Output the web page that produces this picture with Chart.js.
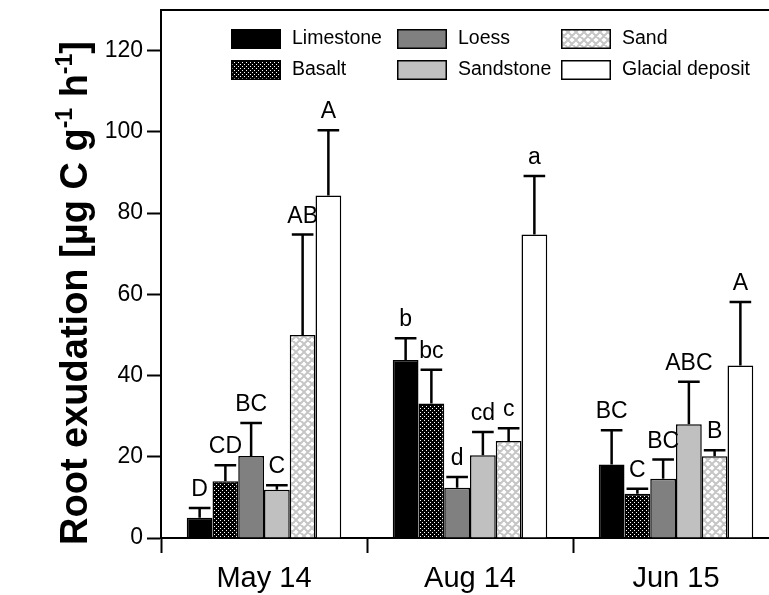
<!DOCTYPE html>
<html>
<head>
<meta charset="utf-8">
<script src="https://cdn.jsdelivr.net/npm/chart.js@4/dist/chart.umd.min.js"></script>
<style>
  html, body { margin: 0; padding: 0; background: #fff; overflow: hidden; }
  #wrap { width: 782px; height: 595px; }
</style>
</head>
<body>
<div id="wrap"><canvas id="c" width="782" height="595"></canvas></div>
<script>
// Sampling dates and substrates
const dates = ['May 14', 'Aug 14', 'Jun 15'];
const substrates = ['Limestone', 'Basalt', 'Loess', 'Sandstone', 'Sand', 'Glacial deposit'];

// Mean root exudation per substrate (µg C g-1 h-1), one value per date
const limestone = [5.0, 43.8, 18.1];
const basalt    = [14.0, 33.1, 10.9];
const loess     = [20.2, 12.4, 14.6];
const sandstone = [11.9, 20.4, 28.0];
const sand      = [50.0, 23.9, 20.1];
const glacial   = [84.3, 74.7, 42.5];

// Upper error (standard error)
const limestoneErr = [2.4, 5.4, 8.4];
const basaltErr    = [3.9, 8.3, 1.2];
const loessErr     = [8.1, 2.6, 4.7];
const sandstoneErr = [1.1, 5.7, 10.5];
const sandErr      = [24.7, 3.1, 1.5];
const glacialErr   = [16.1, 14.4, 15.6];

// Significance letters
const limestoneSig = ['D', 'b', 'BC'];
const basaltSig    = ['CD', 'bc', 'C'];
const loessSig     = ['BC', 'd', 'BC'];
const sandstoneSig = ['C', 'cd', 'ABC'];
const sandSig      = ['AB', 'c', 'B'];
const glacialSig   = ['A', 'a', 'A'];

// Y axis tick values
const yTicks = [0, 20, 40, 60, 80, 100, 120];

const FONT = "'Liberation Sans', Arial, Helvetica, sans-serif";

function dotPattern() {
  const c = document.createElement('canvas');
  c.width = 4; c.height = 4;
  const g = c.getContext('2d');
  g.fillStyle = '#000'; g.fillRect(0, 0, 4, 4);
  g.fillStyle = '#fff';
  g.fillRect(0, 0, 1, 1);
  g.fillRect(2, 2, 1, 1);
  return g.createPattern(c, 'repeat');
}

function hatchPattern() {
  const c = document.createElement('canvas');
  c.width = 8; c.height = 8;
  const g = c.getContext('2d');
  g.fillStyle = '#fff'; g.fillRect(0, 0, 8, 8);
  g.strokeStyle = '#c6c6c6';
  g.lineWidth = 2;
  g.beginPath();
  for (const d of [-8, 0, 8]) {
    g.moveTo(d, 0); g.lineTo(d + 8, 8);
    g.moveTo(d + 8, 0); g.lineTo(d, 8);
  }
  g.stroke();
  return g.createPattern(c, 'repeat');
}

const fills = [ '#000000', dotPattern(), '#808080', '#c0c0c0', hatchPattern(), '#ffffff' ];
const values = [limestone, basalt, loess, sandstone, sand, glacial];
const errors = [limestoneErr, basaltErr, loessErr, sandstoneErr, sandErr, glacialErr];
const letters = [limestoneSig, basaltSig, loessSig, sandstoneSig, sandSig, glacialSig];

const datasets = substrates.map((name, i) => ({
  label: name,
  data: values[i],
  errUp: errors[i],
  sig: letters[i],
  backgroundColor: fills[i],
  borderColor: '#000',
  borderWidth: 1.5,
  borderSkipped: 'start',
  barPercentage: 1.0,
  categoryPercentage: 0.75
}));

// Error bars and significance letters above each bar
const errorBars = {
  id: 'errorBars',
  afterDatasetsDraw(chart) {
    const ctx = chart.ctx;
    const y = chart.scales.y;
    ctx.save();
    ctx.strokeStyle = '#000';
    ctx.fillStyle = '#000';
    ctx.lineWidth = 2.5;
    ctx.font = '23px ' + FONT;
    ctx.textAlign = 'center';
    ctx.textBaseline = 'alphabetic';
    chart.data.datasets.forEach((ds, i) => {
      const meta = chart.getDatasetMeta(i);
      meta.data.forEach((bar, j) => {
        const top = y.getPixelForValue(ds.data[j] + ds.errUp[j]);
        const half = bar.width * 0.42;
        ctx.beginPath();
        ctx.moveTo(bar.x, bar.y);
        ctx.lineTo(bar.x, top);
        ctx.moveTo(bar.x - half, top);
        ctx.lineTo(bar.x + half, top);
        ctx.stroke();
        ctx.fillText(ds.sig[j], bar.x, top - 12);
      });
    });
    ctx.restore();
  }
};

// Top frame line, legend and rotated y title
const decorations = {
  id: 'decorations',
  afterDraw(chart) {
    const ctx = chart.ctx;
    const a = chart.chartArea;
    ctx.save();
    // top frame
    ctx.strokeStyle = '#000';
    ctx.lineWidth = 2;
    ctx.beginPath();
    ctx.moveTo(a.left - 1, a.top);
    ctx.lineTo(a.right, a.top);
    ctx.stroke();

    // legend: three columns, two rows
    const order = [0, 2, 4, 1, 3, 5];
    const colX = [a.left + 70, a.left + 236, a.left + 400];
    const rowY = [a.top + 19, a.top + 50];
    ctx.font = '19.5px ' + FONT;
    ctx.textBaseline = 'middle';
    ctx.textAlign = 'left';
    order.forEach((di, k) => {
      const ds = chart.data.datasets[di];
      const x = colX[k % 3];
      const yy = rowY[Math.floor(k / 3)];
      ctx.fillStyle = ds.backgroundColor;
      ctx.fillRect(x, yy, 50, 20);
      ctx.lineWidth = 1.5;
      ctx.strokeStyle = '#000';
      ctx.strokeRect(x + 0.75, yy + 0.75, 48.5, 18.5);
      ctx.fillStyle = '#000';
      ctx.fillText(ds.label, x + 61, yy + 10);
    });

    // y title with superscripts
    const parts = [
      ['Root exudation [µg C g', false],
      ['-1', true],
      [' h', false],
      ['-1', true],
      [']', false]
    ];
    const big = 'bold 38px ' + FONT;
    const small = 'bold 23px ' + FONT;
    let total = 0;
    parts.forEach(([t, sup]) => { ctx.font = sup ? small : big; total += ctx.measureText(t).width; });
    ctx.translate(87, 293);
    ctx.rotate(-Math.PI / 2);
    ctx.textAlign = 'left';
    ctx.textBaseline = 'alphabetic';
    ctx.fillStyle = '#000';
    let cx = -total / 2;
    parts.forEach(([t, sup]) => {
      ctx.font = sup ? small : big;
      ctx.fillText(t, cx, sup ? -15 : 0);
      cx += ctx.measureText(t).width;
    });
    ctx.restore();
  }
};

function noEdgePadding(s) {
  s.paddingTop = 0; s.paddingBottom = 0;
  s.paddingLeft = 0; s.paddingRight = 0;
}

new Chart(document.getElementById('c'), {
  type: 'bar',
  data: { labels: dates, datasets },
  options: {
    responsive: false,
    animation: false,
    layout: { padding: { top: 10, right: 3, left: 0, bottom: 0 } },
    plugins: { legend: { display: false }, tooltip: { enabled: false } },
    scales: {
      x: {
        offset: true,
        grid: { offset: true, drawOnChartArea: false, drawTicks: true, tickLength: 15, tickWidth: 2, tickColor: '#000' },
        border: { display: true, color: '#000', width: 2 },
        ticks: { color: '#000', font: { family: FONT, size: 29 }, padding: 9 },
        afterFit(s) { s.height = 57; noEdgePadding(s); }
      },
      y: {
        min: 0,
        max: 130,
        afterBuildTicks(s) { s.ticks = yTicks.map(v => ({ value: v })); },
        grid: { drawOnChartArea: false, drawTicks: true, tickLength: 14, tickWidth: 2, tickColor: '#000' },
        border: { display: true, color: '#000', width: 2 },
        ticks: { color: '#000', font: { family: FONT, size: 23 }, padding: 4 },
        afterFit(s) { s.width = 161; noEdgePadding(s); }
      }
    }
  },
  plugins: [errorBars, decorations]
});
</script>
</body>
</html>
